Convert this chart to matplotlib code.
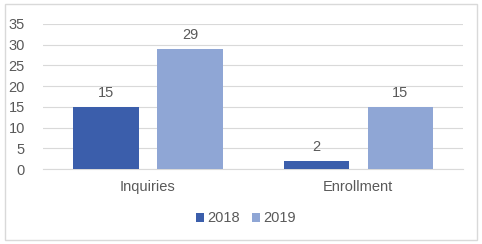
import numpy as np
import matplotlib.pyplot as plt
from matplotlib.patches import Rectangle

plt.rcParams['font.family'] = ['Liberation Sans', 'DejaVu Sans']

categories = ['Inquiries', 'Enrollment']
years = ['2018', '2019']
vals_2018 = [15, 2]
vals_2019 = [29, 15]
colors = ['#3B5EAB', '#8FA6D5']
txt = '#595959'

fig = plt.figure(figsize=(4.82, 2.44), dpi=100)
fig.patches.append(Rectangle((0.011, 0.016), 0.978, 0.968, transform=fig.transFigure,
                             fill=False, edgecolor='#D9D9D9', lw=1))
ax = fig.add_axes([0.089, 0.307, 0.872, 0.595])

x = np.arange(len(categories))
w = 0.31
b1 = ax.bar(x - 0.2, vals_2018, w, color=colors[0], label=years[0], zorder=3)
b2 = ax.bar(x + 0.2, vals_2019, w, color=colors[1], label=years[1], zorder=3)
for bars in (b1, b2):
    ax.bar_label(bars, padding=5, color=txt, fontsize=10.5)

ax.set_xlim(-0.5, 1.5)
ax.set_ylim(0, 35)
ax.set_yticks(range(0, 36, 5))
ax.set_xticks(x)
ax.set_xticklabels(categories)
ax.yaxis.grid(True, color='#D9D9D9', lw=0.8, zorder=0)
for s in ax.spines.values():
    s.set_visible(False)
ax.spines['bottom'].set_visible(True)
ax.spines['bottom'].set_color('#D9D9D9')
ax.tick_params(length=0, colors=txt, labelsize=10.5)
ax.tick_params(axis='y', pad=13)
ax.tick_params(axis='x', pad=8)

fig.legend(loc='center', bbox_to_anchor=(0.51, 0.105), ncol=2, frameon=False,
           fontsize=10.5, labelcolor=txt, handlelength=0.6, handleheight=0.6,
           handletextpad=0.2, columnspacing=0.8)

plt.savefig('out.png', dpi=100)
